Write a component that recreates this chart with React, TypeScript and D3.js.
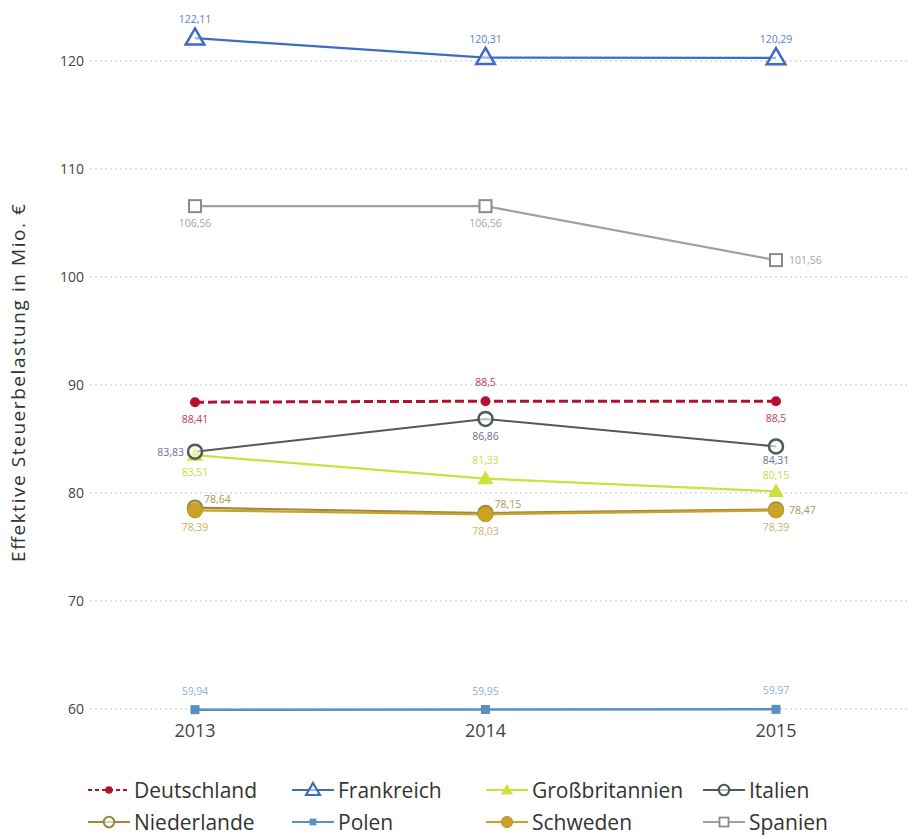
import React from "react";
import * as d3 from "d3";

const years = [2013, 2014, 2015];
const yTicks = [60, 70, 80, 90, 100, 110, 120];

const deutschland = [88.41, 88.5, 88.5];
const frankreich = [122.11, 120.31, 120.29];
const grossbritannien = [83.51, 81.33, 80.15];
const italien = [83.83, 86.86, 84.31];
const niederlande = [78.64, 78.15, 78.47];
const polen = [59.94, 59.95, 59.97];
const schweden = [78.39, 78.03, 78.39];
const spanien = [106.56, 106.56, 101.56];

const seriesNames = ["Deutschland", "Frankreich", "Großbritannien", "Italien", "Niederlande", "Polen", "Schweden", "Spanien"];

type Pos = "above" | "below" | "left" | "right" | "aboveRight" | "belowTight" | "aboveTight";
type Marker = "dot" | "triangle" | "triFill" | "ring" | "square" | "squareOpen" | "bigDot";

interface Style {
  color: string;
  labelColor: string;
  marker: Marker;
  dash?: string;
  width: number;
  pos: Pos[];
}

const styles: Record<string, Style> = {
  Deutschland: { color: "#b3122f", labelColor: "#c33a52", marker: "dot", dash: "9,4", width: 3, pos: ["below", "above", "below"] },
  Frankreich: { color: "#3f6cc0", labelColor: "#5a7fd0", marker: "triangle", width: 2.2, pos: ["above", "above", "above"] },
  Großbritannien: { color: "#cde03c", labelColor: "#c9d94a", marker: "triFill", width: 2.2, pos: ["below", "above", "aboveTight"] },
  Italien: { color: "#4d5c55", labelColor: "#6a7090", marker: "ring", width: 2, pos: ["left", "below", "belowTight"] },
  Niederlande: { color: "#9c8a3e", labelColor: "#a89a5a", marker: "ring", width: 2.2, pos: ["aboveRight", "aboveRight", "right"] },
  Polen: { color: "#5b8ec2", labelColor: "#8cb0d8", marker: "square", width: 2.5, pos: ["above", "above", "above"] },
  Schweden: { color: "#c9a227", labelColor: "#cdb26a", marker: "bigDot", width: 2.2, pos: ["below", "below", "below"] },
  Spanien: { color: "#a0a0a0", labelColor: "#a5a5a5", marker: "squareOpen", width: 2.2, pos: ["below", "below", "right"] },
};

const dataMap: Record<string, number[]> = {
  Deutschland: deutschland,
  Frankreich: frankreich,
  Großbritannien: grossbritannien,
  Italien: italien,
  Niederlande: niederlande,
  Polen: polen,
  Schweden: schweden,
  Spanien: spanien,
};

const drawOrder = ["Polen", "Spanien", "Frankreich", "Niederlande", "Schweden", "Großbritannien", "Italien", "Deutschland"];

const W = 912;
const H = 839;
const FONT = "'Open Sans', 'Noto Sans', sans-serif";

const x = d3.scaleLinear().domain([2013, 2015]).range([195, 776]);
const y = d3.scaleLinear().domain([60, 120]).range([709, 61]);

function fmt(v: number) {
  return String(v).replace(".", ",");
}

function MarkerShape({ m, cx, cy, color, k = 1 }: { m: Marker; cx: number; cy: number; color: string; k?: number }) {
  switch (m) {
    case "dot":
      return <circle cx={cx} cy={cy} r={5 * k} fill={color} />;
    case "bigDot":
      return <circle cx={cx} cy={cy} r={7.5 * k} fill={color} stroke="#b89a2a" strokeWidth={1} />;
    case "ring":
      return <circle cx={cx} cy={cy} r={7 * k} fill="#fff" fillOpacity={0.6} stroke={color} strokeWidth={2.5 * Math.sqrt(k)} />;
    case "triangle": {
      const p = d3.symbol(d3.symbolTriangle, 150 * k * k)();
      return <path d={p || ""} transform={`translate(${cx},${cy + 1})`} fill="#fff" fillOpacity={0.5} stroke={color} strokeWidth={2.5 * Math.sqrt(k)} />;
    }
    case "triFill": {
      const p = d3.symbol(d3.symbolTriangle, 110 * k * k)();
      return <path d={p || ""} transform={`translate(${cx},${cy + 1})`} fill={color} />;
    }
    case "square":
      return <rect x={cx - 4.5 * k} y={cy - 4.5 * k} width={9 * k} height={9 * k} fill={color} />;
    case "squareOpen":
      return <rect x={cx - 6 * k} y={cy - 6 * k} width={12 * k} height={12 * k} fill="#fff" stroke="#8a8a8a" strokeWidth={2 * Math.sqrt(k)} />;
  }
  return null;
}

function labelProps(pos: Pos, cx: number, cy: number) {
  switch (pos) {
    case "above":
      return { x: cx, y: cy - 15, anchor: "middle" };
    case "aboveTight":
      return { x: cx, y: cy - 12, anchor: "middle" };
    case "below":
      return { x: cx, y: cy + 21, anchor: "middle" };
    case "belowTight":
      return { x: cx, y: cy + 18, anchor: "middle" };
    case "left":
      return { x: cx - 11, y: cy + 4, anchor: "end" };
    case "right":
      return { x: cx + 13, y: cy + 4, anchor: "start" };
    case "aboveRight":
      return { x: cx + 9, y: cy - 5, anchor: "start" };
  }
}

export default function App() {
  const line = d3
    .line<number>()
    .x((_, i) => x(years[i]))
    .y((d) => y(d));

  const legendCols = [88, 292, 486, 703];
  const legendRows = [790, 822];

  return (
    <svg width={W} height={H} style={{ position: "absolute", left: 0, top: 0, background: "#fff" }} fontFamily={FONT}>
      {yTicks.map((t) => (
        <g key={t}>
          <line x1={90} x2={910} y1={y(t)} y2={y(t)} stroke="#c8c8c8" strokeWidth={1.2} strokeDasharray="2,3" />
          <text x={84} y={y(t) + 5} textAnchor="end" fontSize={14} fill="#444">
            {t}
          </text>
        </g>
      ))}
      {years.map((yr) => (
        <text key={yr} x={x(yr)} y={737} textAnchor="middle" fontSize={18} fill="#444">
          {yr}
        </text>
      ))}
      <text
        transform={`translate(25,383) rotate(-90)`}
        textAnchor="middle"
        fontSize={19}
        fill="#333"
        textLength={358}
        lengthAdjust="spacing"
      >
        Effektive Steuerbelastung in Mio. €
      </text>

      {drawOrder.map((name) => {
        const s = styles[name];
        const vals = dataMap[name];
        return (
          <g key={name}>
            <path d={line(vals) || ""} fill="none" stroke={s.color} strokeWidth={s.width} strokeDasharray={s.dash} />
          </g>
        );
      })}
      {drawOrder.map((name) => {
        const s = styles[name];
        const vals = dataMap[name];
        return (
          <g key={name + "m"}>
            {vals.map((v, i) => (
              <MarkerShape key={i} m={s.marker} cx={x(years[i])} cy={y(v)} color={s.color} />
            ))}
          </g>
        );
      })}
      {drawOrder.map((name) => {
        const s = styles[name];
        const vals = dataMap[name];
        return (
          <g key={name + "l"}>
            {vals.map((v, i) => {
              const lp = labelProps(s.pos[i], x(years[i]), y(v));
              return (
                <text key={i} x={lp.x} y={lp.y} textAnchor={lp.anchor as any} fontSize={10.5} fill={s.labelColor}>
                  {fmt(v)}
                </text>
              );
            })}
          </g>
        );
      })}

      {seriesNames.map((name, i) => {
        const s = styles[name];
        const lx = legendCols[i % 4];
        const ly = legendRows[Math.floor(i / 4)];
        return (
          <g key={name + "leg"}>
            <line x1={lx} x2={lx + 42} y1={ly} y2={ly} stroke={s.color} strokeWidth={2} strokeDasharray={s.dash ? "4,3" : undefined} />
            <MarkerShape m={s.marker} cx={lx + 21} cy={ly} color={s.color} k={0.75} />
            <text x={lx + 46} y={ly + 8} fontSize={21} fill="#333">
              {name}
            </text>
          </g>
        );
      })}
    </svg>
  );
}
